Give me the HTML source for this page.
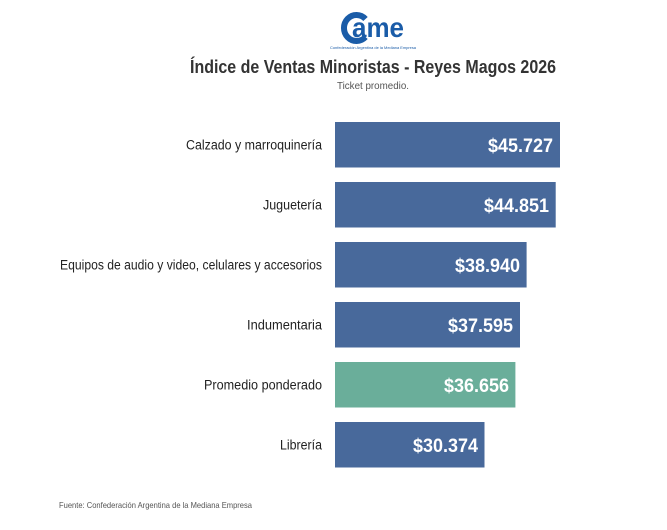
<!DOCTYPE html>
<html><head><meta charset="utf-8"><style>
html,body{margin:0;padding:0;background:#fff;}
svg{display:block;}
text{font-family:"Liberation Sans",sans-serif;}
</style></head><body>
<svg width="667" height="530" viewBox="0 0 667 530" xmlns="http://www.w3.org/2000/svg">
<rect width="667" height="530" fill="#fff"/>
<!-- logo -->
<g>
<path d="M 365.5 19 A 12.5 13 0 1 0 365.5 37" fill="none" stroke="#1a5ca8" stroke-width="6"/>
<text x="352" y="37" font-size="28" font-weight="bold" fill="#1a5ca8" textLength="52" lengthAdjust="spacingAndGlyphs">ame</text>
<text x="330" y="49" font-size="3.6" fill="#1a5ca8" textLength="86" lengthAdjust="spacingAndGlyphs">Confederación Argentina de la Mediana Empresa</text>
</g>
<text x="190" y="73" font-size="18" font-weight="bold" fill="#333" textLength="366" lengthAdjust="spacingAndGlyphs">Índice de Ventas Minoristas - Reyes Magos 2026</text>
<text x="337" y="89" font-size="10.5" fill="#555" textLength="72" lengthAdjust="spacingAndGlyphs">Ticket promedio.</text>

<g font-size="13.5" fill="#222" text-anchor="end" lengthAdjust="spacingAndGlyphs">
<text x="322" y="149.5" textLength="136" lengthAdjust="spacingAndGlyphs">Calzado y marroquinería</text>
<text x="322" y="209.5" textLength="59" lengthAdjust="spacingAndGlyphs">Juguetería</text>
<text x="322" y="269.5" textLength="262" lengthAdjust="spacingAndGlyphs">Equipos de audio y video, celulares y accesorios</text>
<text x="322" y="329.5" textLength="75" lengthAdjust="spacingAndGlyphs">Indumentaria</text>
<text x="322" y="389.5" textLength="118" lengthAdjust="spacingAndGlyphs">Promedio ponderado</text>
<text x="322" y="449.5" textLength="42" lengthAdjust="spacingAndGlyphs">Librería</text>
</g>

<g>
<rect x="335" y="122" width="225" height="45.5" fill="#48699b"/>
<rect x="335" y="182" width="220.7" height="45.5" fill="#48699b"/>
<rect x="335" y="242" width="191.6" height="45.5" fill="#48699b"/>
<rect x="335" y="302" width="185" height="45.5" fill="#48699b"/>
<rect x="335" y="362" width="180.4" height="45.5" fill="#6aae9a"/>
<rect x="335" y="422" width="149.5" height="45.5" fill="#48699b"/>
</g>
<g font-size="19" font-weight="bold" fill="#fff" text-anchor="end">
<text x="553" y="152" textLength="65" lengthAdjust="spacingAndGlyphs">$45.727</text>
<text x="549" y="212" textLength="65" lengthAdjust="spacingAndGlyphs">$44.851</text>
<text x="520" y="272" textLength="65" lengthAdjust="spacingAndGlyphs">$38.940</text>
<text x="513" y="332" textLength="65" lengthAdjust="spacingAndGlyphs">$37.595</text>
<text x="509" y="392" textLength="65" lengthAdjust="spacingAndGlyphs">$36.656</text>
<text x="478" y="452" textLength="65" lengthAdjust="spacingAndGlyphs">$30.374</text>
</g>
<text x="59" y="508" font-size="8.5" fill="#555" textLength="193" lengthAdjust="spacingAndGlyphs">Fuente: Confederación Argentina de la Mediana Empresa</text>
</svg>
</body></html>
